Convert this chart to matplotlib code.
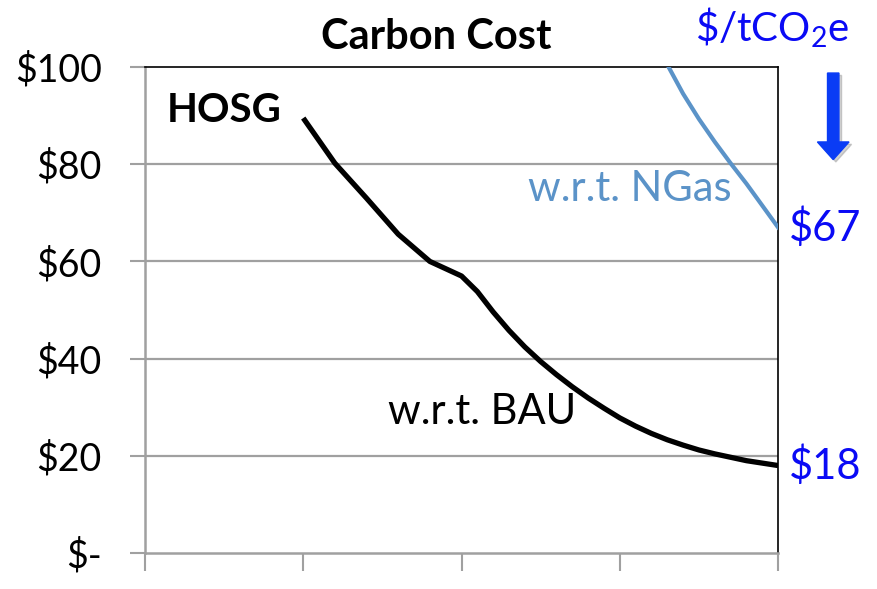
import matplotlib
matplotlib.use("Agg")
import matplotlib.pyplot as plt
from matplotlib.patches import FancyArrow

plt.rcParams['font.family'] = ['Lato', 'DejaVu Sans']
plt.rcParams['mathtext.fontset'] = 'custom'
plt.rcParams['mathtext.rm'] = 'Lato'
plt.rcParams['mathtext.it'] = 'Lato'

# carbon cost curves ($/tCO2e) along the scenario axis
bau_x = [1.0, 1.2, 1.4, 1.6, 1.8, 2.0, 2.1, 2.2, 2.3, 2.4, 2.5, 2.6, 2.7, 2.8, 2.9,
         3.0, 3.1, 3.2, 3.3, 3.4, 3.5, 3.6, 3.7, 3.8, 3.9, 4.0]
bau_cost = [89.5, 80.2, 73.0, 65.6, 60.0, 57.0, 53.8, 49.6, 45.8, 42.4, 39.4, 36.7, 34.2, 31.9, 29.8,
            27.8, 26.1, 24.6, 23.3, 22.2, 21.2, 20.4, 19.7, 19.0, 18.5, 18.0]
ngas_x = [3.3, 3.4, 3.5, 3.6, 3.7, 3.8, 3.9, 4.0]
ngas_cost = [100.5, 94.5, 89.3, 84.6, 80.2, 76.0, 71.5, 67.0]

y_ticks = [0, 20, 40, 60, 80, 100]
y_labels = ['$-', '$20', '$40', '$60', '$80', '$100']
x_ticks = [0, 1, 2, 3, 4]

grid_grey = '#A0A0A0'
label_blue = '#0A0AF5'
ngas_blue = '#5B93C8'

fig = plt.figure(figsize=(8.78, 5.89), dpi=100)
ax = fig.add_axes([0.1651, 0.0611, 0.7211, 0.8251])

ax.set_xlim(0, 4)
ax.set_ylim(0, 100)
ax.set_yticks(y_ticks)
ax.set_yticklabels(y_labels, fontsize=27)
ax.set_xticks(x_ticks)
ax.set_xticklabels([])
ax.tick_params(axis='y', length=11, width=1.5, color=grid_grey, pad=20)
ax.tick_params(axis='x', length=13, width=1.5, color=grid_grey)

for y in y_ticks[1:-1]:
    ax.axhline(y, color=grid_grey, lw=1.6, zorder=1)

for side in ('left', 'bottom'):
    ax.spines[side].set_color(grid_grey)
    ax.spines[side].set_linewidth(1.8)
for side in ('top', 'right'):
    ax.spines[side].set_color('black')
    ax.spines[side].set_linewidth(1.2)

ax.plot(bau_x, bau_cost, color='black', lw=3.8, solid_joinstyle='round',
        solid_capstyle='butt', zorder=3)
ax.plot(ngas_x, ngas_cost, color=ngas_blue, lw=3.0, solid_joinstyle='round',
        zorder=3)

ax.text(0.14, 91, 'HOSG', fontsize=29, fontweight='bold', va='center', ha='left')
ax.text(1.535, 29, 'w.r.t. BAU', fontsize=30, va='center', ha='left')
ax.text(2.42, 75, 'w.r.t. NGas', fontsize=30, va='center', ha='left', color=ngas_blue)

ax.text(4.07, ngas_cost[-1], '$' + f'{ngas_cost[-1]:.0f}', fontsize=30,
        color=label_blue, va='center', ha='left', clip_on=False)
ax.text(4.07, bau_cost[-1], '$' + f'{bau_cost[-1]:.0f}', fontsize=30,
        color=label_blue, va='center', ha='left', clip_on=False)

fig.text(0.4966, 0.938, 'Carbon Cost', fontsize=30, fontweight='bold',
         ha='center', va='center')
fig.text(0.879, 0.952, r'\$/tCO$_2$e', fontsize=29, color=label_blue,
         ha='center', va='center')

# downward arrow under the unit label (with a faint shadow)
for dx, dy, col, a in [(0.003, -0.004, '#808080', 0.35), (0.0, 0.0, '#0A3CF5', 1.0)]:
    fig.patches.append(FancyArrow(0.949 + dx, 0.876 + dy, 0, -0.147, width=0.013,
                                  head_width=0.036, head_length=0.03,
                                  length_includes_head=True, color=col, alpha=a,
                                  transform=fig.transFigure, figure=fig))

fig.savefig('out.png', dpi=100)
